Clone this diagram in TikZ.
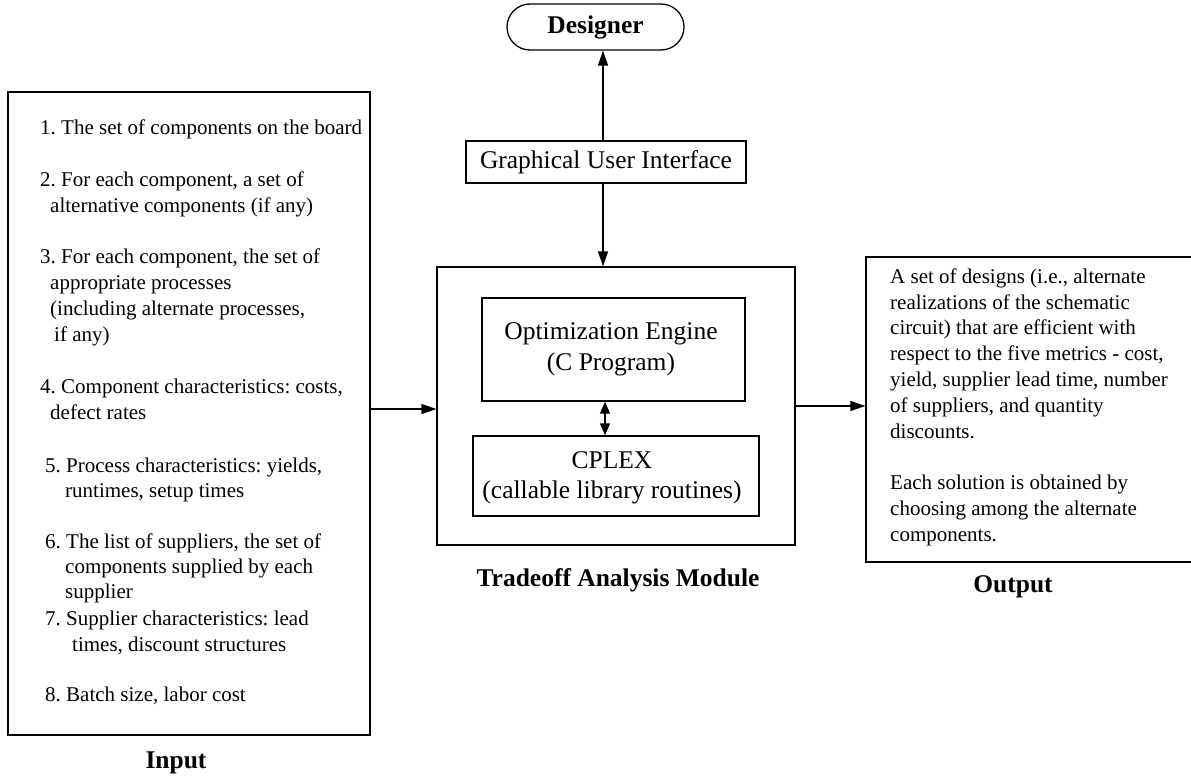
\documentclass[tikz,border=0pt]{standalone}
\usepackage{fontspec}
\setmainfont{Liberation Serif}
\usetikzlibrary{arrows.meta,shapes.misc}
\frenchspacing
\newcommand\txtBox{\fontsize{25.5}{31}\selectfont}
\newcommand\txtLab{\fontsize{25.5}{30}\selectfont\bfseries}
\newcommand\tstrut{\rule{0pt}{15pt}}
\begin{document}
\begin{tikzpicture}[x=1pt,y=-1pt,
  box/.style={draw,line width=1.3pt,inner sep=0pt},
  boxtext/.style={font=\txtBox,align=center,inner sep=0pt},
  itm/.style={anchor=north west,inner sep=0pt,align=left,font=\fontsize{21}{26}\selectfont},
  lab/.style={font=\txtLab,inner sep=0pt},
  arr/.style={line width=1.3pt,-{Triangle[length=15pt,width=10pt]}},
  darr/.style={line width=1.3pt,{Triangle[length=12pt,width=10pt]}-{Triangle[length=12pt,width=10pt]}}
]
\useasboundingbox (0,0) rectangle (1191,781);

% boxes
\node[box,rounded rectangle,minimum width=177pt,minimum height=46pt,font=\txtLab] (designer) at (595.5,27) {Designer};
\node[box,minimum width=280pt,minimum height=42pt,font=\txtBox] (gui) at (606,162) {Graphical User Interface};
\node[box,minimum width=358pt,minimum height=278pt] (module) at (616,406) {};
\node[box,minimum width=263pt,minimum height=103pt] (opt) at (613.5,349.5) {};
\node[boxtext] (optt) at (611,349) {Optimization Engine\\(C Program)};
\node[box,minimum width=286pt,minimum height=80pt] (cplex) at (616,476) {};
\node[boxtext,font=\fontsize{25.5}{30}\selectfont] (cplext) at (612,478) {CPLEX\\(callable library routines)};
\node[box,minimum width=362pt,minimum height=643pt] (input) at (189,413.5) {};
\node[box,minimum width=334pt,minimum height=305pt] (output) at (1033,409.5) {};

% labels
\node[lab] (tam) at (618,580) {Tradeoff Analysis Module};
\node[lab] (outl) at (1013,587) {Output};
\node[lab] (inl) at (176,763) {Input};

% input items
\node[itm] (i1) at (40,119.5) {\tstrut 1. The set of components on the board};
\node[itm] (i2) at (40,171.5) {\tstrut 2. For each component, a set of\\\hspace*{10pt}alternative components (if any)};
\node[itm] (i3) at (40,248.5) {\tstrut 3. For each component, the set of\\\hspace*{10pt}appropriate processes\\\hspace*{10pt}(including alternate processes,\\\hspace*{14pt}if any)};
\node[itm] (i4) at (40,378.5) {\tstrut 4. Component characteristics: costs,\\\hspace*{10pt}defect rates};
\node[itm,font=\fontsize{21}{25}\selectfont] (i5) at (45,457.5) {\tstrut 5. Process characteristics: yields,\\\hspace*{20pt}runtimes, setup times};
\node[itm,font=\fontsize{21}{25}\selectfont] (i6) at (45,533.5) {\tstrut 6. The list of suppliers, the set of\\\hspace*{20pt}components supplied by each\\\hspace*{20pt}supplier};
\node[itm] (i7) at (45,610.5) {\tstrut 7. Supplier characteristics: lead\\\hspace*{27pt}times, discount structures};
\node[itm] (i8) at (45,686.5) {\tstrut 8. Batch size, labor cost};

% output text
\node[itm,font=\fontsize{21}{25.8}\selectfont] (o1) at (890,268) {\tstrut A set of designs (i.e., alternate\\realizations of the schematic\\circuit) that are efficient with\\respect to the five metrics - cost,\\yield, supplier lead time, number\\of suppliers, and quantity\\discounts.};
\node[itm,font=\fontsize{21}{25.8}\selectfont] (o2) at (890,474.5) {\tstrut Each solution is obtained by\\choosing among the alternate\\components.};

% connectors
\draw[arr] ([xshift=-3pt]gui.north) -- ([xshift=-3pt]gui.north |- designer.south);
\draw[arr] ([xshift=-3pt]gui.south) -- ([xshift=-3pt]gui.south |- module.north);
\draw[darr] ([xshift=-8.5pt]opt.south) -- ([xshift=-8.5pt]opt.south |- cplex.north);
\draw[arr] ([yshift=-3pt]module.west -| input.east) -- ([yshift=-3pt]module.west);
\draw[arr] (module.east) -- (module.east -| output.west);
\end{tikzpicture}
\end{document}
